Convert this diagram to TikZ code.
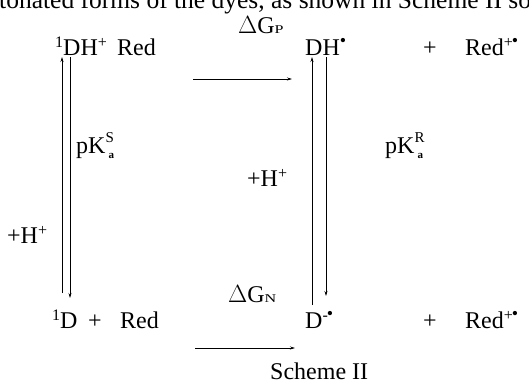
\documentclass[tikz,border=0pt]{standalone}
\usepackage{fontspec}
\setmainfont{Liberation Serif}
\usetikzlibrary{arrows.meta}
\newcommand{\mysup}[1]{\raisebox{8pt}{\fontsize{16}{16}\selectfont #1}}
\newcommand{\mysub}[1]{\raisebox{-0.5pt}{\fontsize{14}{14}\selectfont\scalebox{1.15}[0.85]{#1}}}
\newcommand{\pka}[1]{pK\makebox[0pt][l]{\raisebox{10.5pt}{\fontsize{15}{15}\selectfont #1}}\kern3pt\raisebox{-5pt}{\fontsize{11}{11}\selectfont\bfseries a}}
\newcommand{\rad}{\raisebox{9pt}{\fontsize{18}{18}\selectfont\textbullet}}
\begin{document}
\begin{tikzpicture}[x=1pt,y=-1pt,
  lbl/.style={anchor=base west, inner sep=0pt, font=\fontsize{24}{28}\selectfont},
  arr/.style={line width=0.7pt, -{Stealth[length=5pt,width=3pt]}}]
\useasboundingbox (0,0) rectangle (529,389);
\clip (0,0) rectangle (529,389);
% cropped line of running text at the top
\node[lbl, font=\fontsize{25.5}{30}\selectfont] (toptext) at (-1,8) {tonated forms of the dyes, as shown in Scheme II so};
% top row
\node[lbl] (dgp) at (238,33) {$\Delta$G\mysub{P}};
\node[lbl] (dhp) at (55,55) {\mysup{1}DH\mysup{+}};
\node[lbl] (red1) at (117,55) {Red};
\node[lbl] (dh) at (305,55) {DH\rad};
\node[lbl] (plus1) at (423,55) {+};
\node[lbl] (redc1) at (465,55) {Red\mysup{+}\kern-1pt\rad};
% middle labels
\node[lbl] (pks) at (76,153) {\pka{S}};
\node[lbl] (pkr) at (385,153) {\pka{R}};
\node[lbl] (hmid) at (247,186) {+H\mysup{+}};
\node[lbl] (hleft) at (7,243) {+H\mysup{+}};
% bottom row
\node[lbl] (dgn) at (228,302) {$\Delta$G\mysub{N}};
\node[lbl] (d1) at (52,328) {\mysup{1}D};
\node[lbl] (plus2) at (88,328) {+};
\node[lbl] (red2) at (120,328) {Red};
\node[lbl] (dm) at (305,328) {D\mysup{-}\kern-1pt\rad};
\node[lbl] (plus3) at (423,328) {+};
\node[lbl] (redc2) at (465,328) {Red\mysup{+}\kern-1pt\rad};
\node[lbl] (scheme) at (270,379) {Scheme II};
% arrow end points
\coordinate (tA) at (193,79);  \coordinate (tB) at (292,79);
\coordinate (bA) at (195,348); \coordinate (bB) at (295,348);
\coordinate (luA) at (62,293); \coordinate (luB) at (62,57);
\coordinate (ldA) at (70,57);  \coordinate (ldB) at (70,298);
\coordinate (ruA) at (312,305); \coordinate (ruB) at (312,57);
\coordinate (rdA) at (326,57);  \coordinate (rdB) at (326,296);
\draw[arr] (tA) -- (tB);
\draw[arr] (bA) -- (bB);
\draw[arr] (luA) -- (luB);
\draw[arr] (ldA) -- (ldB);
\draw[arr] (ruA) -- (ruB);
\draw[arr] (rdA) -- (rdB);
\end{tikzpicture}
\end{document}
